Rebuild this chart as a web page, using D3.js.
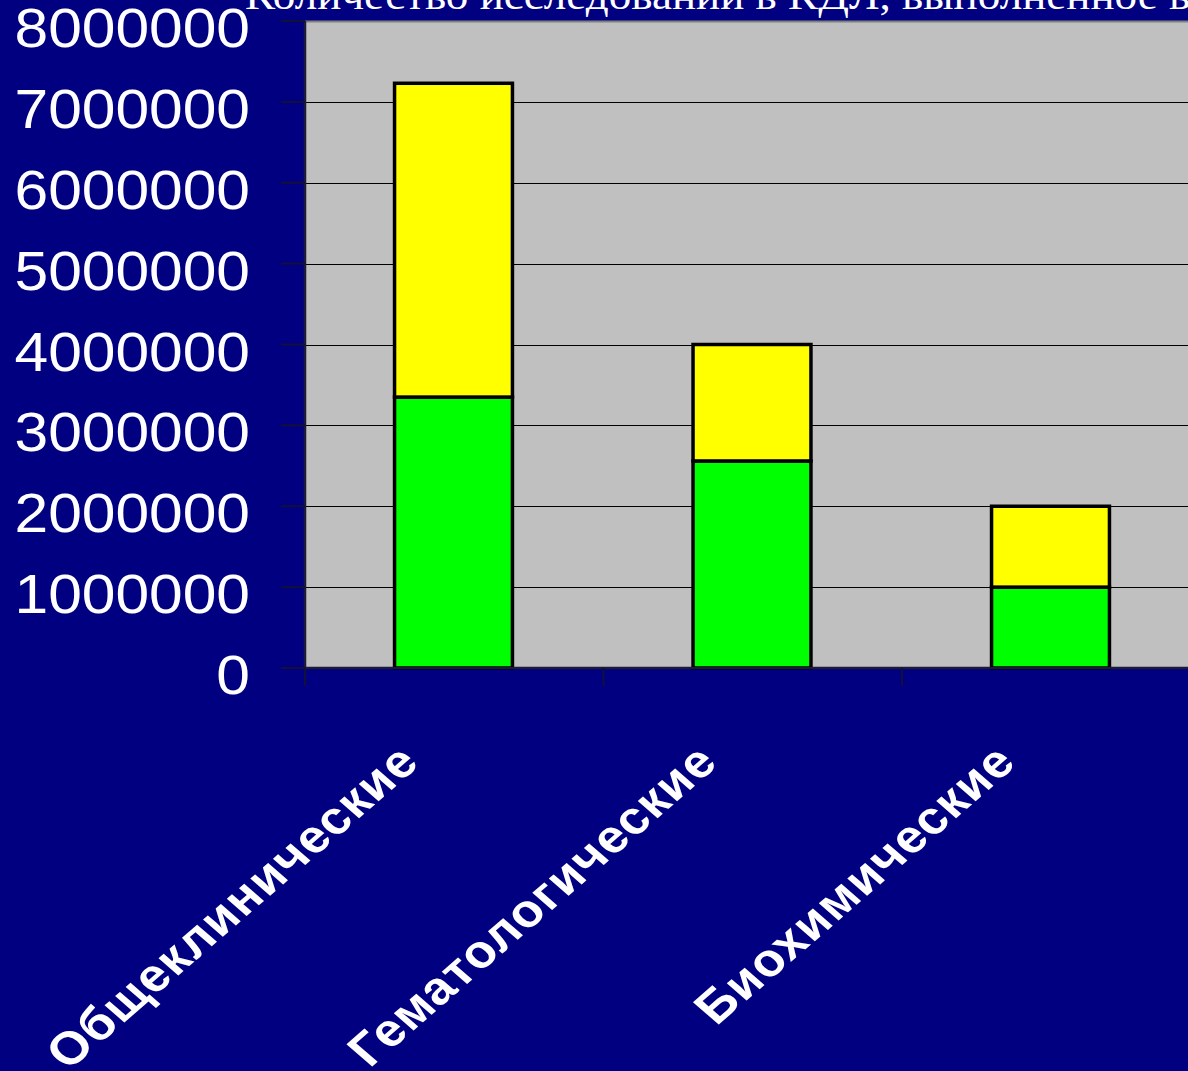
<!DOCTYPE html>
<html>
<head>
<meta charset="utf-8">
<script src="https://cdn.jsdelivr.net/npm/d3@7"></script>
<style>
  html, body { margin: 0; padding: 0; background: #000080; }
  svg { display: block; }
</style>
</head>
<body>
<svg id="chart" width="1188" height="1071"></svg>
<script>
// Laboratory test counts by type (two stacked components per category)
const categories = ["Общеклинические", "Гематологические", "Биохимические"];
const lowerSeries = [3350000, 2560000, 1000000];   // green segment
const upperSeries = [3880000, 1440000, 1000000];   // yellow segment
const yTicks = [0, 1000000, 2000000, 3000000, 4000000, 5000000, 6000000, 7000000, 8000000];
const titleText = "Количество исследований в КДЛ, выполненное в";

const W = 1188, H = 1071;
const plot = { left: 305, top: 21, bottom: 668, step: 298 };
const stretch = 1.1;

const svg = d3.select("#chart");
svg.append("rect").attr("width", W).attr("height", H).attr("fill", "#000080");

const x = d3.scaleBand()
  .domain(categories)
  .range([plot.left, plot.left + plot.step * categories.length])
  .paddingInner(0.605)
  .paddingOuter(0.3);

const y = d3.scaleLinear().domain([0, 8000000]).range([plot.bottom, plot.top]);

// plot area background
svg.append("rect")
  .attr("x", plot.left).attr("y", plot.top)
  .attr("width", x.range()[1] - plot.left)
  .attr("height", plot.bottom - plot.top)
  .attr("fill", "#c0c0c0");
svg.append("line")
  .attr("x1", plot.left).attr("x2", W)
  .attr("y1", plot.top + 0.5).attr("y2", plot.top + 0.5)
  .attr("stroke", "#808080").attr("stroke-width", 2);

// horizontal gridlines
svg.append("g").selectAll("line")
  .data(yTicks.filter(v => v > 0 && v < 8000000))
  .join("line")
  .attr("x1", plot.left).attr("x2", W)
  .attr("y1", d => Math.round(y(d)) + 0.5).attr("y2", d => Math.round(y(d)) + 0.5)
  .attr("stroke", "#000").attr("stroke-width", 1.2);

// stacked bars
const stackData = categories.map((c, i) => ({ cat: c, low: lowerSeries[i], high: upperSeries[i] }));
const stack = d3.stack().keys(["low", "high"])(stackData);
const colors = { low: "#00ff00", high: "#ffff00" };

svg.append("g").selectAll("g")
  .data(stack)
  .join("g")
  .attr("fill", d => colors[d.key])
  .selectAll("rect")
  .data(d => d)
  .join("rect")
  .attr("x", d => x(d.data.cat))
  .attr("y", d => y(d[1]))
  .attr("width", x.bandwidth())
  .attr("height", d => y(d[0]) - y(d[1]))
  .attr("stroke", "#000")
  .attr("stroke-width", 3.5);

// axes lines
svg.append("line")
  .attr("x1", plot.left).attr("x2", plot.left)
  .attr("y1", plot.top).attr("y2", plot.bottom)
  .attr("stroke", "#1a1a3a").attr("stroke-width", 2.5);
svg.append("line")
  .attr("x1", plot.left).attr("x2", W)
  .attr("y1", plot.bottom).attr("y2", plot.bottom)
  .attr("stroke", "#1a1a3a").attr("stroke-width", 2.5);

// y tick marks
svg.append("g").selectAll("line")
  .data(yTicks)
  .join("line")
  .attr("x1", plot.left - 24).attr("x2", plot.left)
  .attr("y1", d => y(d)).attr("y2", d => y(d))
  .attr("stroke", "#10103a").attr("stroke-width", 2);

// category boundary ticks
svg.append("g").selectAll("line")
  .data(d3.range(categories.length + 1))
  .join("line")
  .attr("x1", i => plot.left + i * x.step()).attr("x2", i => plot.left + i * x.step())
  .attr("y1", plot.bottom).attr("y2", plot.bottom + 18)
  .attr("stroke", "#10103a").attr("stroke-width", 2);

// y tick labels
svg.append("g").selectAll("text")
  .data(yTicks)
  .join("text")
  .attr("transform", d => `translate(250,${y(d) + 26}) scale(${stretch},1)`)
  .attr("text-anchor", "end")
  .attr("font-family", "Liberation Sans, Arial, sans-serif")
  .attr("font-size", 55)
  .attr("fill", "#fff")
  .text(d => d3.format("d")(d));

// category labels
svg.append("g").selectAll("text")
  .data(categories)
  .join("text")
  .attr("transform", d => `translate(${x(d) + x.bandwidth() / 2 - 32},${plot.bottom + 96}) scale(${stretch + 0.05},1) rotate(-45)`)
  .attr("text-anchor", "end")
  .attr("font-family", "Liberation Sans, Arial, sans-serif")
  .attr("font-weight", "bold")
  .attr("font-size", 46)
  .attr("letter-spacing", 1)
  .attr("fill", "#fff")
  .text(d => d);

// title (mostly above the top edge)
svg.append("text")
  .attr("transform", `translate(245,9) scale(${stretch},1)`)
  .attr("font-family", "Liberation Serif, Times New Roman, serif")
  .attr("font-size", 41)
  .attr("fill", "#fff")
  .text(titleText);
</script>
</body>
</html>
